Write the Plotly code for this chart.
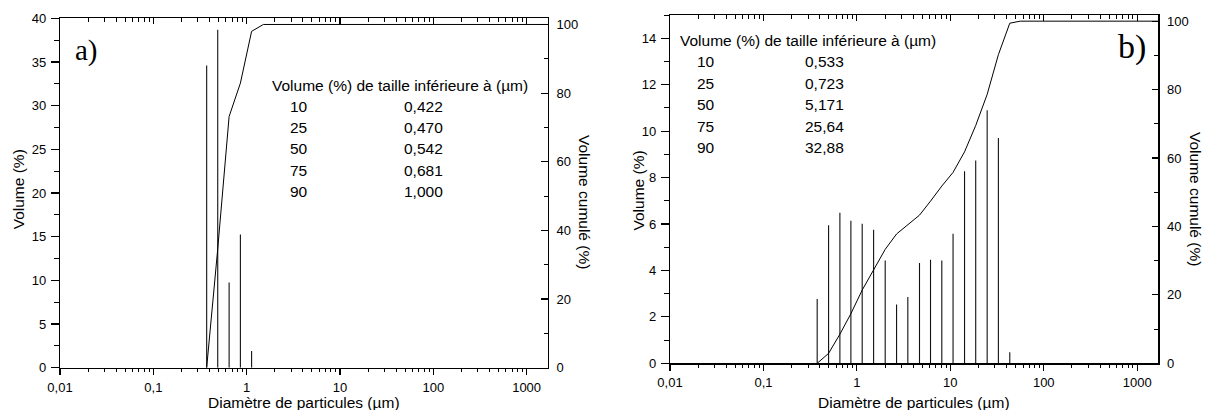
import plotly.graph_objects as go

# ---------------- data ----------------
# panel a)
diam_a = [0.373, 0.490, 0.649, 0.857, 1.13]
vol_a = [34.6, 38.7, 9.75, 15.25, 1.9]
cum_x_a = [0.373, 0.490, 0.649, 0.857, 1.13, 1.51, 2000]
cum_y_a = [0, 34.6, 73.2, 82.9, 98.0, 100, 100]

# panel b)
diam_b = [0.376, 0.498, 0.658, 0.863, 1.14, 1.51, 2.01, 2.66, 3.51, 4.68,
          6.14, 8.11, 10.7, 14.2, 18.7, 24.8, 32.7, 43.3]
vol_b = [2.77, 5.94, 6.48, 6.14, 6.01, 5.75, 4.43, 2.53, 2.86, 4.32,
         4.46, 4.43, 5.58, 8.27, 8.73, 10.9, 9.7, 0.48]
cum_x_b = [0.376, 0.498, 0.658, 0.863, 1.14, 1.51, 2.01, 2.66, 3.51, 4.68,
           6.14, 8.11, 10.7, 14.2, 18.7, 24.8, 32.7, 43.3, 56, 2000]
cum_y_b = [0, 2.9, 8.5, 14.5, 21.4, 27.3, 33.3, 37.8, 40.4, 43.3,
           47.4, 51.8, 55.8, 61.8, 69.5, 78.6, 90.2, 99.4, 100, 100]

# tables
table_header = "Volume (%) de taille inférieure à (µm)"
table_pct = ["10", "25", "50", "75", "90"]
table_size_a = ["0,422", "0,470", "0,542", "0,681", "1,000"]
table_size_b = ["0,533", "0,723", "5,171", "25,64", "32,88"]

# tick labels
x_tickvals = [0.01, 0.1, 1, 10, 100, 1000]
x_ticktext = ["0,01", "0,1", "1", "10", "100", "1000"]

# ---------------- figure ----------------
W, H = 1207, 410
FONT = "Liberation Sans"
BLACK = "#000000"


def px(x):
    return x / W


def py(y):
    return 1 - y / H


def stems(xs, ys):
    sx, sy = [], []
    for xv, yv in zip(xs, ys):
        sx += [xv, xv, None]
        sy += [0, yv, None]
    return sx, sy


minor_x = [d * m for d in x_tickvals for m in range(2, 10) if d * m < 1690]

fig = go.Figure()

sx, sy = stems(diam_a, vol_a)
fig.add_trace(go.Scatter(x=sx, y=sy, mode="lines", line=dict(color="#111", width=1.1),
                         xaxis="x", yaxis="y", hoverinfo="skip"))
fig.add_trace(go.Scatter(x=cum_x_a, y=cum_y_a, mode="lines", line=dict(color=BLACK, width=1),
                         xaxis="x3", yaxis="y2"))

sx, sy = stems(diam_b, vol_b)
fig.add_trace(go.Scatter(x=sx, y=sy, mode="lines", line=dict(color="#111", width=1.1),
                         xaxis="x2", yaxis="y3", hoverinfo="skip"))
fig.add_trace(go.Scatter(x=cum_x_b, y=cum_y_b, mode="lines", line=dict(color=BLACK, width=1),
                         xaxis="x4", yaxis="y4"))

XR = [-2, 3.226]
dom_xa = [px(60), px(547.7)]
dom_xb = [px(670), px(1158.3)]
dom_ya = [py(367.7), py(18.3)]
dom_yb = [py(363.3), py(15)]

tickfont = dict(family=FONT, size=13, color=BLACK)
common = dict(showline=True, linecolor=BLACK, linewidth=1.2, showgrid=False,
              zeroline=False, tickcolor=BLACK, tickwidth=1.2, tickfont=tickfont,
              automargin=False)


def xbottom(domain, anchor):
    return dict(common, type="log", range=XR, domain=domain, anchor=anchor,
                ticks="outside", ticklen=6, tickvals=x_tickvals, ticktext=x_ticktext,
                ticklabelstandoff=1,
                minor=dict(tickvals=minor_x, ticks="outside", ticklen=3,
                           tickcolor=BLACK, tickwidth=1))


def xtop(over, anchor):
    return dict(common, type="log", range=XR, overlaying=over, anchor=anchor, side="top",
                ticks="inside", ticklen=6, tickvals=x_tickvals, showticklabels=False,
                minor=dict(tickvals=minor_x, ticks="inside", ticklen=3.5,
                           tickcolor=BLACK, tickwidth=1))


def yleft(domain, anchor, rng, dt):
    return dict(common, range=rng, domain=domain, anchor=anchor, ticks="outside",
                ticklen=8, tick0=0, dtick=dt, ticklabelstandoff=2,
                minor=dict(dtick=dt / 2, tick0=0, ticks="outside", ticklen=5,
                           tickcolor=BLACK, tickwidth=1))


def yright(over, anchor):
    return dict(common, range=[0, 101.8], overlaying=over, anchor=anchor, side="right",
                ticks="inside", ticklen=6.5, tick0=0, dtick=20, ticklabelstandoff=5,
                minor=dict(dtick=10, tick0=0, ticks="inside", ticklen=4,
                           tickcolor=BLACK, tickwidth=1))


fig.update_layout(
    width=W, height=H,
    margin=dict(l=0, r=0, t=0, b=0, pad=0, autoexpand=False),
    paper_bgcolor="white", plot_bgcolor="white",
    showlegend=False,
    font=dict(family=FONT, color=BLACK),
    xaxis=xbottom(dom_xa, "y"),
    xaxis3=xtop("x", "y2"),
    yaxis=yleft(dom_ya, "x", [0, 40], 5),
    yaxis2=yright("y", "x"),
    xaxis2=xbottom(dom_xb, "y3"),
    xaxis4=xtop("x2", "y4"),
    yaxis3=yleft(dom_yb, "x2", [0, 15], 2),
    yaxis4=yright("y3", "x2"),
)

ann = []
tfont = dict(family=FONT, size=15.5, color=BLACK)

# axis titles
ann.append(dict(text="Volume (%)", x=px(18.3), y=py(189), textangle=-90, font=tfont))
ann.append(dict(text="Volume (%)", x=px(638), y=py(190.5), textangle=-90, font=tfont))
ann.append(dict(text="Volume cumulé (%)", x=px(585), y=py(202), textangle=90, font=tfont))
ann.append(dict(text="Volume cumulé (%)", x=px(1196), y=py(199), textangle=90, font=tfont))
ann.append(dict(text="Diamètre de particules (µm)", x=px(303.8), y=py(402), font=tfont))
ann.append(dict(text="Diamètre de particules (µm)", x=px(914.3), y=py(402), font=tfont))

# panel labels
ann.append(dict(text="a)", x=px(72.5), y=py(50.5), xanchor="left",
                font=dict(family="Liberation Serif", size=29, color=BLACK)))
ann.append(dict(text="b)", x=px(1115.5), y=py(46.7), xanchor="left",
                font=dict(family="Liberation Serif", size=34, color=BLACK)))

# tables
for (hx, hy, c1, c2, sizes, row0, dy) in [
    (270, 86, 288, 401.7, table_size_a, 106.5, 21.2),
    (678.3, 40.7, 695, 803.3, table_size_b, 61.8, 21.5),
]:
    ann.append(dict(text=table_header, x=px(hx), y=py(hy), xanchor="left", font=tfont))
    for i, (p, s) in enumerate(zip(table_pct, sizes)):
        yy = row0 + i * dy
        ann.append(dict(text=p, x=px(c1), y=py(yy), xanchor="left", font=tfont))
        ann.append(dict(text=s, x=px(c2), y=py(yy), xanchor="left", font=tfont))

for a in ann:
    a.update(xref="paper", yref="paper", showarrow=False)
    a.setdefault("xanchor", "center")
    a.setdefault("yanchor", "middle")
fig.update_layout(annotations=ann)

fig.write_html(
    "out.html",
    config={"displayModeBar": False, "staticPlot": True},
    post_script="document.body.style.margin='0';document.body.style.overflow='hidden';",
)
